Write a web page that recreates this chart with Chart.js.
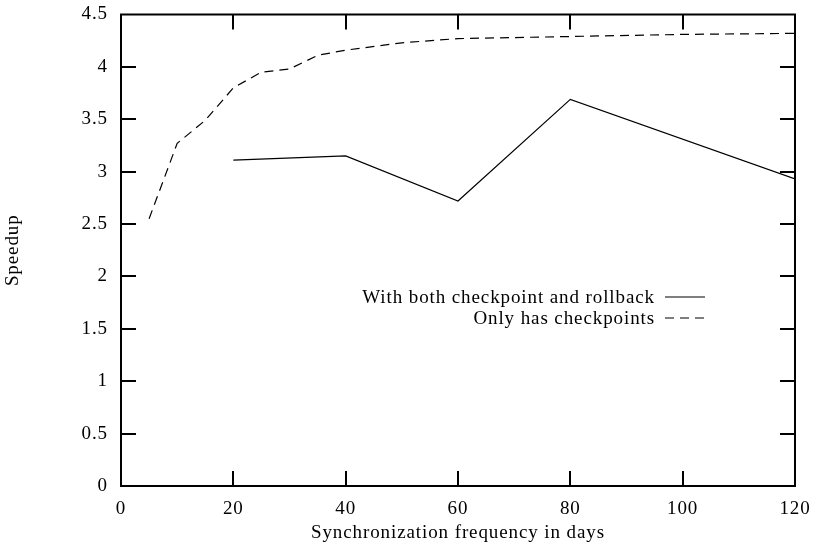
<!DOCTYPE html>
<html>
<head>
<meta charset="utf-8">
<script src="https://cdn.jsdelivr.net/npm/chart.js@4/dist/chart.umd.min.js"></script>
<style>
  html, body { margin: 0; padding: 0; background: #fff; }
  canvas { display: block; }
</style>
</head>
<body>
<canvas id="speedupChart" width="817" height="545"></canvas>
<script>
// valores
const diasCheckpoint = [5, 10, 15, 20, 25, 30, 35, 40, 50, 60, 80, 100, 120];
const speedupCheckpoint = [2.55, 3.27, 3.49, 3.80, 3.95, 3.98, 4.11, 4.16, 4.23, 4.27, 4.29, 4.31, 4.32];

const diasRollback = [20, 40, 60, 80, 120];
const speedupRollback = [3.11, 3.15, 2.72, 3.69, 2.93];

const ticksX = [0, 20, 40, 60, 80, 100, 120];
const ticksY = [0, 0.5, 1, 1.5, 2, 2.5, 3, 3.5, 4, 4.5];

const fuente = "'Liberation Serif', 'Times New Roman', serif";
const tamFuente = 19;

function puntos(xs, ys) {
  return xs.map((x, i) => ({ x: x, y: ys[i] }));
}

// el texto del original es mas ancho, se abre un poco
const espaciadoPlugin = {
  id: 'espaciado',
  beforeDraw(chart) {
    chart.ctx.letterSpacing = '0.9px';
  }
};

// marco y ticks hacia adentro, estilo gnuplot
const marcoPlugin = {
  id: 'marco',
  afterDatasetsDraw(chart) {
    const { ctx, chartArea: a, scales } = chart;
    ctx.save();
    ctx.strokeStyle = '#000';
    ctx.lineWidth = 2;
    const largo = 15;
    ctx.beginPath();
    ticksX.forEach(v => {
      if (v === 0 || v === 120) return;
      const px = Math.round(scales.x.getPixelForValue(v));
      ctx.moveTo(px, a.bottom); ctx.lineTo(px, a.bottom - largo);
      ctx.moveTo(px, a.top); ctx.lineTo(px, a.top + largo);
    });
    ticksY.forEach(v => {
      if (v === 0 || v === 4.5) return;
      const py = Math.round(scales.y.getPixelForValue(v));
      ctx.moveTo(a.left, py); ctx.lineTo(a.left + largo, py);
      ctx.moveTo(a.right, py); ctx.lineTo(a.right - largo, py);
    });
    ctx.stroke();
    ctx.strokeRect(a.left, a.top, a.right - a.left, a.bottom - a.top);

    // leyenda
    ctx.font = tamFuente + 'px ' + fuente;
    ctx.fillStyle = '#000';
    ctx.textAlign = 'right';
    ctx.textBaseline = 'middle';
    ctx.lineWidth = 1.2;
    chart.data.datasets.forEach((ds, i) => {
      const y = 297 + i * 21;
      ctx.fillText(ds.label, 655, y + 1);
      ctx.setLineDash(ds.borderDash || []);
      ctx.beginPath();
      ctx.moveTo(665, y); ctx.lineTo(705, y);
      ctx.stroke();
    });
    ctx.restore();
  }
};

const ctx = document.getElementById('speedupChart').getContext('2d');

new Chart(ctx, {
  type: 'line',
  data: {
    datasets: [{
      label: 'With both checkpoint and rollback',
      data: puntos(diasRollback, speedupRollback),
      borderColor: '#000',
      borderWidth: 1.2,
      pointRadius: 0,
      fill: false,
      tension: 0
    }, {
      label: 'Only has checkpoints',
      data: puntos(diasCheckpoint, speedupCheckpoint),
      borderColor: '#000',
      borderWidth: 1.2,
      borderDash: [9, 6],
      pointRadius: 0,
      fill: false,
      tension: 0
    }]
  },
  options: {
    responsive: false,
    animation: false,
    layout: { padding: { top: 14, right: 22, left: 0, bottom: 0 } },
    plugins: {
      legend: { display: false },
      tooltip: { enabled: false }
    },
    scales: {
      x: {
        type: 'linear',
        min: 0,
        max: 120,
        afterBuildTicks: s => { s.ticks = ticksX.map(v => ({ value: v })); },
        afterFit: s => { s.height = 59; },
        grid: { display: false },
        border: { display: false },
        ticks: {
          color: '#000', font: { family: fuente, size: tamFuente }, padding: 4,
          maxRotation: 0, autoSkip: false, callback: v => String(v)
        },
        title: {
          display: true,
          text: 'Synchronization frequency in days',
          color: '#000',
          font: { family: fuente, size: tamFuente },
          padding: { top: 0, bottom: 1 }
        }
      },
      y: {
        min: 0,
        max: 4.5,
        afterBuildTicks: s => { s.ticks = ticksY.map(v => ({ value: v })); },
        afterFit: s => { s.width = 121; },
        grid: { display: false },
        border: { display: false },
        ticks: {
          color: '#000', font: { family: fuente, size: tamFuente, lineHeight: 1 }, padding: 5,
          autoSkip: false, callback: v => String(v)
        },
        title: {
          display: true,
          text: 'Speedup',
          color: '#000',
          font: { family: fuente, size: tamFuente },
          padding: { top: 2, bottom: 0 }
        }
      }
    }
  },
  plugins: [espaciadoPlugin, marcoPlugin]
});
</script>
</body>
</html>
